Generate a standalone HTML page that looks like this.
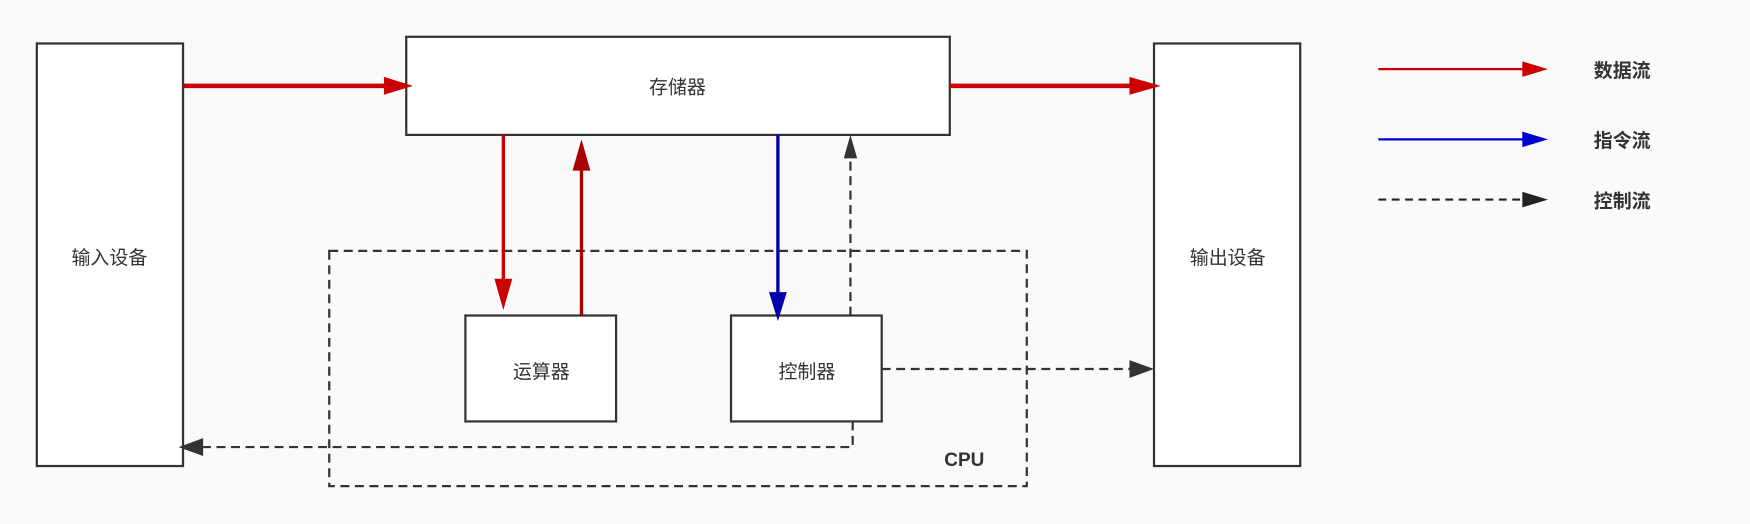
<!DOCTYPE html>
<html><head><meta charset="utf-8"><style>html,body{margin:0;padding:0;background:#fafafa}svg{display:block}text{font-family:"Liberation Sans","Noto Sans CJK SC",sans-serif;fill:#333}</style></head><body>
<svg width="1750" height="524" viewBox="0 0 1568 470" preserveAspectRatio="none" xmlns="http://www.w3.org/2000/svg">
<defs>
<marker id="r" markerWidth="10" markerHeight="8" refX="9" refY="4" orient="auto" markerUnits="userSpaceOnUse"><path d="M0,0L10,4L0,8z" fill="#c00"/></marker>
</defs>
<rect x="295" y="225" width="625" height="211" fill="none" stroke="#333" stroke-width="2" stroke-dasharray="8,5"/>
<rect x="33" y="39" width="131" height="379" fill="#fff" stroke="#333" stroke-width="2"/>
<rect x="364" y="33" width="487" height="88" fill="#fff" stroke="#333" stroke-width="2"/>
<rect x="1034" y="39" width="131" height="379" fill="#fff" stroke="#333" stroke-width="2"/>
<rect x="417" y="283" width="135" height="95" fill="#fff" stroke="#333" stroke-width="2"/>
<rect x="655" y="283" width="135" height="95" fill="#fff" stroke="#333" stroke-width="2"/>
<text x="98" y="237" font-size="17" text-anchor="middle">输入设备</text>
<text x="607" y="84" font-size="17" text-anchor="middle">存储器</text>
<text x="1100" y="237" font-size="17" text-anchor="middle">输出设备</text>
<text x="485" y="339" font-size="17" text-anchor="middle">运算器</text>
<text x="723" y="339" font-size="17" text-anchor="middle">控制器</text>
<text x="864" y="418" font-size="17" font-weight="bold" text-anchor="middle">CPU</text>
<!-- data flows -->
<line x1="164" y1="77" x2="348" y2="77" stroke="#c00" stroke-width="4"/><path d="M344,69L370,77L344,85z" fill="#c00"/>
<line x1="851" y1="77" x2="1016" y2="77" stroke="#c00" stroke-width="4"/><path d="M1012,69L1040,77L1012,85z" fill="#c00"/>
<line x1="451" y1="121" x2="451" y2="255" stroke="#c00" stroke-width="3"/><path d="M443,250L451,278L459,250z" fill="#c00"/>
<line x1="521" y1="283" x2="521" y2="150" stroke="#a00" stroke-width="3"/><path d="M513,153L521,125L529,153z" fill="#a00"/>
<line x1="697" y1="121" x2="697" y2="265" stroke="#00a" stroke-width="3"/><path d="M689,262L697,288L705,262z" fill="#00a"/>
<!-- control flows -->
<line x1="762" y1="283" x2="762" y2="140" stroke="#333" stroke-width="2" stroke-dasharray="8,5"/><path d="M756,142L762,121L768,142z" fill="#333"/>
<line x1="790" y1="331" x2="1014" y2="331" stroke="#333" stroke-width="2" stroke-dasharray="8,5"/><path d="M1012,323L1034,331L1012,339z" fill="#333"/>
<polyline points="764,378 764,401 182,401" fill="none" stroke="#333" stroke-width="2" stroke-dasharray="8,5"/><path d="M182,393L160,401L182,409z" fill="#333"/>
<!-- legend -->
<line x1="1235" y1="62" x2="1366" y2="62" stroke="#c00" stroke-width="2"/><path d="M1364,55L1387,62L1364,69z" fill="#c00"/>
<line x1="1235" y1="125" x2="1366" y2="125" stroke="#00c" stroke-width="2"/><path d="M1364,118L1387,125L1364,132z" fill="#00c"/>
<line x1="1235" y1="179" x2="1366" y2="179" stroke="#222" stroke-width="2" stroke-dasharray="7,5"/><path d="M1364,172L1387,179L1364,186z" fill="#222"/>
<text x="1428" y="69" font-size="17" font-weight="bold">数据流</text>
<text x="1428" y="132" font-size="17" font-weight="bold">指令流</text>
<text x="1428" y="186" font-size="17" font-weight="bold">控制流</text>
</svg>
</body></html>
